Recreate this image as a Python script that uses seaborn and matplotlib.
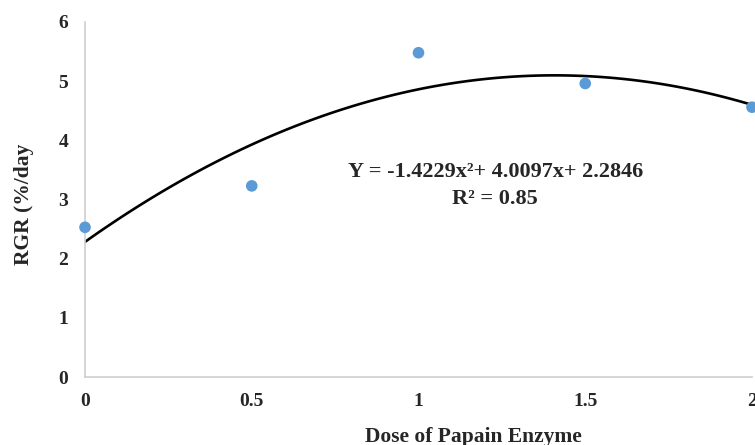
import matplotlib
matplotlib.use("Agg")
import matplotlib.pyplot as plt
import seaborn as sns
import pandas as pd

# values
dose = [0, 0.5, 1, 1.5, 2]
rgr = [2.53, 3.23, 5.48, 4.96, 4.56]
x_ticks = [0, 0.5, 1, 1.5, 2]
x_tick_labels = ["0", "0.5", "1", "1.5", "2"]
y_ticks = [0, 1, 2, 3, 4, 5, 6]
equation = "Y = -1.4229x\u00b2+ 4.0097x+ 2.2846"
r_squared = "R\u00b2 = 0.85"

df = pd.DataFrame({"dose": dose, "rgr": rgr})

sns.set_style("white")
plt.rcParams["font.family"] = ["Liberation Serif", "DejaVu Serif"]
plt.rcParams["font.weight"] = "bold"

fig = plt.figure(figsize=(7.55, 4.45), dpi=100)
ax = fig.add_axes([0.1126, 0.1528, 0.8834, 0.7978])

# polynomial trendline (order 2) fitted by seaborn
sns.regplot(data=df, x="dose", y="rgr", order=2, ci=None, scatter=False,
            line_kws={"color": "black", "linewidth": 1.9}, ax=ax)
sns.scatterplot(data=df, x="dose", y="rgr", color="#5b9bd5", s=70,
                edgecolor="none", ax=ax, zorder=3, clip_on=False)

ax.set_xlim(0, 2)
ax.set_ylim(0, 6)
ax.set_xticks(x_ticks)
ax.set_xticklabels(x_tick_labels)
ax.set_yticks(y_ticks)
ax.tick_params(axis="both", length=0, labelsize=14)
ax.tick_params(axis="x", pad=11.5)
ax.tick_params(axis="y", pad=12)
for lab in ax.get_xticklabels() + ax.get_yticklabels():
    lab.set_fontweight("bold")

for side in ["top", "right"]:
    ax.spines[side].set_visible(False)
for side in ["left", "bottom"]:
    ax.spines[side].set_color("#d0d0d0")
    ax.spines[side].set_linewidth(1.2)

ax.set_xlabel("Dose of Papain Enzyme", fontsize=15.5, fontweight="bold")
ax.xaxis.label.set_va("center")
ax.xaxis.set_label_coords(0.583, -0.169)
ax.set_ylabel("RGR (%/day", fontsize=15.5, fontweight="bold")
ax.yaxis.label.set_va("center")
ax.yaxis.set_label_coords(-0.0915, 0.487)

ax.text(1.23, 3.46, equation, fontsize=16, fontweight="bold",
        ha="center", va="center")
ax.text(1.23, 3.01, r_squared, fontsize=16, fontweight="bold",
        ha="center", va="center")

fig.savefig("out.png", dpi=100)
